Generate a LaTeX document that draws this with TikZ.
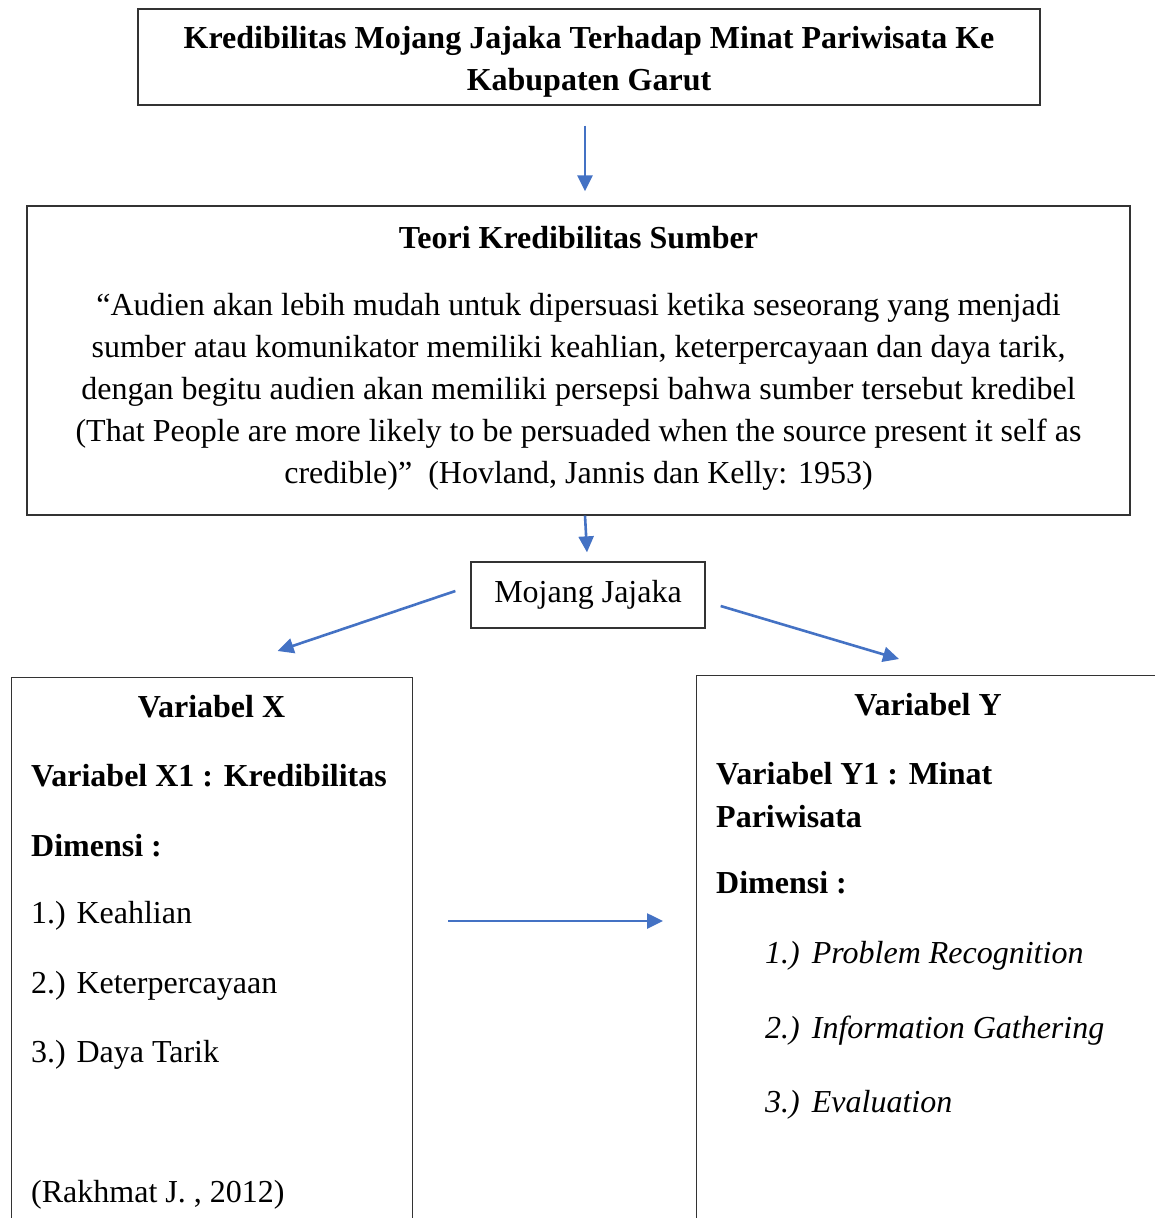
\documentclass[tikz,border=0pt]{standalone}
\usepackage{fontspec}
\setmainfont{Liberation Serif}
\usetikzlibrary{arrows.meta,positioning,calc}
\definecolor{panahbiru}{RGB}{68,114,196}
\newcommand{\ukuran}{\fontsize{32}{42}\selectfont}

\begin{document}
\begin{tikzpicture}[
    x=1pt, y=-1pt,
    font=\ukuran,
    >={Triangle[length=16pt,width=15pt]},
    kotak/.style={
        draw=black!80,
        line width=1.3pt,
        inner sep=0pt,
        align=center,
        font=\ukuran
    },
    flow/.style={->, panahbiru, line width=2.6pt},
    judulvar/.style={font=\ukuran\bfseries, anchor=base, inner sep=0pt},
    tebal/.style={font=\ukuran\bfseries, anchor=base west, inner sep=0pt},
    isi/.style={font=\ukuran, anchor=base west, inner sep=0pt},
    miring/.style={font=\ukuran\itshape, anchor=base west, inner sep=0pt}
]

\useasboundingbox (0,0) rectangle (1155,1218);
\clip (0,0) rectangle (1155,1218);

% Judul
\node[kotak, font=\ukuran\bfseries, minimum width=902pt, minimum height=96pt] (judul) at (589,57)
    {\rule{0pt}{32pt}Kredibilitas Mojang Jajaka Terhadap Minat Pariwisata Ke\\Kabupaten Garut};

% Teori
\node[kotak, minimum width=1103pt, minimum height=309pt] (teori) at (578.5,360.5)
    {\textbf{Teori Kredibilitas Sumber}\\[25pt]
     “Audien akan lebih mudah untuk dipersuasi ketika seseorang yang menjadi\\
     sumber atau komunikator memiliki keahlian, keterpercayaan dan daya tarik,\\
     dengan begitu audien akan memiliki persepsi bahwa sumber tersebut kredibel\\
     (That People are more likely to be persuaded when the source present it self as\\
     credible)”~ (Hovland, Jannis dan Kelly: 1953)\rule[-11pt]{0pt}{1pt}};

\node[kotak, minimum width=234pt, minimum height=66pt] (mojang) at (588,595) {Mojang Jajaka};

% =====================================================
% VARIABEL X
% =====================================================

\node[kotak, anchor=north west, minimum width=401pt, minimum height=600pt] (varx) at (11,677) {};
\node[judulvar] (xjudul) at (211.5,717) {Variabel X};
\node[tebal] (x1) at (31,786) {Variabel X1 : Kredibilitas};
\node[tebal] (xdim) at (31,856) {Dimensi :};
\foreach \y/\t [count=\i] in {923/Keahlian, 993/Keterpercayaan, 1062/Daya Tarik}
    \node[isi] (xd\i) at (31,\y) {\i.) \t};
\node[isi] (xsumber) at (31,1202) {(Rakhmat J. , 2012)};

% =====================================================
% VARIABEL Y
% =====================================================

\node[kotak, anchor=north west, minimum width=464pt, minimum height=600pt] (vary) at (696,675) {};
\node[judulvar] (yjudul) at (928,715) {Variabel Y};
\node[tebal] (y1) at (716,784) {Variabel Y1 : Minat};
\node[tebal] (y1b) at (716,827) {Pariwisata};
\node[tebal] (ydim) at (716,893) {Dimensi :};
\foreach \y/\t [count=\i] in {963/Problem Recognition, 1038/Information Gathering, 1112/Evaluation}
    \node[miring] (yd\i) at (765,\y) {\i.)\hspace{12pt}\t};

% Panah
\draw[flow, shorten <=20pt, shorten >=14pt] ([xshift=-4pt]judul.south) -- ([xshift=-4pt]judul.south |- teori.north);
\draw[flow] ([xshift=6.5pt]teori.south) -- ([xshift=-1pt,yshift=9pt]mojang.north);
\draw[flow] ([xshift=-15pt,yshift=4pt]mojang.west) -- ([xshift=65.5pt,yshift=26pt]varx.north);
\draw[flow] ([xshift=15pt,yshift=-11pt]mojang.east) -- ([xshift=203pt,yshift=16pt]vary.north west);
\draw[flow] ($(varx.north east)+(35,244)$) -- ($(vary.north west)+(-33,246)$);

\end{tikzpicture}
\end{document}
